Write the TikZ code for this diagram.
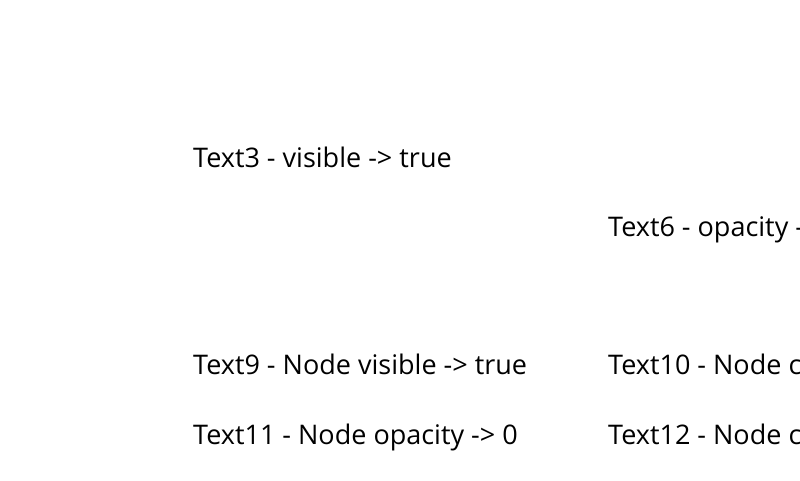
\documentclass[tikz,border=0pt]{standalone}
\usepackage{fontspec}
\setmainfont{Open Sans}
\usepackage{tikz}

\begin{document}
\begin{tikzpicture}[x=1pt, y=-1pt,
		every node/.style = {anchor=base west, inner sep=0pt, font=\fontsize{27}{31}\selectfont}
		]
		\useasboundingbox (0,0) rectangle (800,480);
		\clip (0,0) rectangle (800,480);
		\node (t3) at (193,167) {Text3 - visible -> true};
		\node (t6) at (608,236) {Text6 - opacity -> 0};
		\node (t9) at (193,374) {Text9 - Node visible -> true};
		\node (t10) at (608,374) {Text10 - Node collapsed -> true};
		\node (t11) at (193,444) {Text11 - Node opacity -> 0};
		\node (t12) at (608,444) {Text12 - Node collapsed -> false};
	\end{tikzpicture}
\end{document}
